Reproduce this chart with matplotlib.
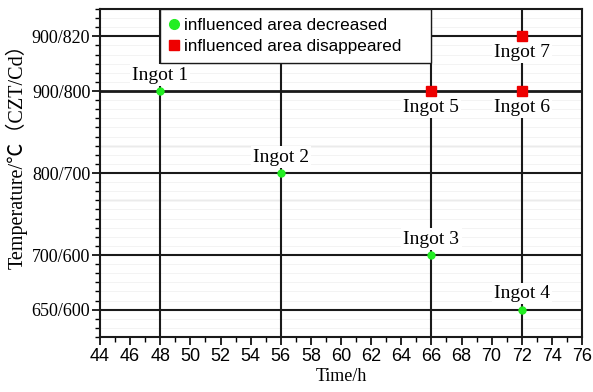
import matplotlib
matplotlib.use("Agg")
import matplotlib.pyplot as plt
from matplotlib.ticker import MultipleLocator, FixedLocator
from matplotlib.lines import Line2D

# -----------------------------------------------------------
# Data
# -----------------------------------------------------------
level_labels = ["650/600", "700/600", "800/700", "900/800", "900/820"]
level_pos = [1, 2, 3.5, 5, 6]

ingot_names = ["Ingot 1", "Ingot 2", "Ingot 3", "Ingot 4", "Ingot 5", "Ingot 6", "Ingot 7"]
ingot_time = [48, 56, 66, 72, 66, 72, 72]
ingot_level = ["900/800", "800/700", "700/600", "650/600", "900/800", "900/800", "900/820"]
ingot_status = ["decreased", "decreased", "decreased", "decreased",
                "disappeared", "disappeared", "disappeared"]

level_map = dict(zip(level_labels, level_pos))
ingot_y = [level_map[l] for l in ingot_level]

serif = ["Liberation Serif", "DejaVu Serif"]
sans = ["Liberation Sans", "DejaVu Sans"]

fig = plt.figure(figsize=(5.93, 3.92), dpi=100)
ax = fig.add_axes([100 / 593, 1 - 337 / 392, 482 / 593, 328 / 392])

ax.set_xlim(44, 76)
ax.set_ylim(0.5, 6.5)

# faint minor grid + light gray lines
ax.yaxis.set_minor_locator(MultipleLocator(1 / 6))
ax.grid(which="minor", axis="y", color="#f1f1f1", lw=0.6, zorder=0)
for yy in [3, 4]:
    ax.axhline(yy, color="#d0d0d0", lw=1.0, zorder=1)

# black level lines
for yy in level_pos:
    ax.axhline(yy, color="#1a1a1a", lw=1.5 if yy != 5 else 2.0, zorder=2)

# vertical time lines
for xx in sorted(set(ingot_time)):
    ax.axvline(xx, color="#1a1a1a", lw=1.5, zorder=2)

# labels (white boxes interrupt the lines)
for name, x, y, st in zip(ingot_names, ingot_time, ingot_y, ingot_status):
    dy = 16 if st == "decreased" else -16
    ax.annotate(name, (x, y), xytext=(0, dy), textcoords="offset pixels",
                ha="center", va="center", fontsize=14, family=serif, zorder=4,
                bbox=dict(facecolor="white", edgecolor="none", pad=1.5))

# markers
for x, y, st in zip(ingot_time, ingot_y, ingot_status):
    if st == "decreased":
        ax.plot(x, y, "o", color="#22ee22", ms=5, zorder=5)
    else:
        ax.plot(x, y, "s", color="#ee0000", ms=7.5, zorder=5)

# ticks
ax.xaxis.set_major_locator(MultipleLocator(2))
ax.xaxis.set_minor_locator(MultipleLocator(1))
ax.yaxis.set_major_locator(FixedLocator(level_pos))
ax.set_yticklabels(level_labels, family=serif, fontsize=13)
for lab in ax.get_xticklabels():
    lab.set_family(sans)
    lab.set_fontsize(13)
ax.tick_params(which="major", length=6, width=1.2, direction="out", pad=2)
ax.tick_params(which="minor", length=3.5, width=1.0, direction="out")
ax.tick_params(axis="y", which="major", pad=1)

for sp in ax.spines.values():
    sp.set_linewidth(1.5)
    sp.set_color("#1a1a1a")

ax.set_xlabel("Time/h", family=serif, fontsize=13, labelpad=2)
ax.set_ylabel("Temperature/℃（CZT/Cd）", family=["Liberation Serif", "Noto Sans CJK SC", "DejaVu Sans"],
              fontsize=14.5)
ax.yaxis.set_label_coords(-0.15, 0.565)

handles = [
    Line2D([], [], marker="o", ls="none", color="#22ee22", ms=7),
    Line2D([], [], marker="s", ls="none", color="#ee0000", ms=7),
]
leg = ax.legend(handles, ["influenced area decreased", "influenced area disappeared"],
                loc="upper left", bbox_to_anchor=(0.125, 1.0, 0.5625, 0.0), mode="expand",
                borderaxespad=0, fancybox=False, framealpha=1, edgecolor="#1a1a1a",
                prop=dict(family=sans, size=12.3), handlelength=0.6, handletextpad=0.3,
                labelspacing=0.4, borderpad=0.5)
leg.get_frame().set_linewidth(1.0)
leg.set_zorder(10)

fig.savefig("out.png", dpi=100)
